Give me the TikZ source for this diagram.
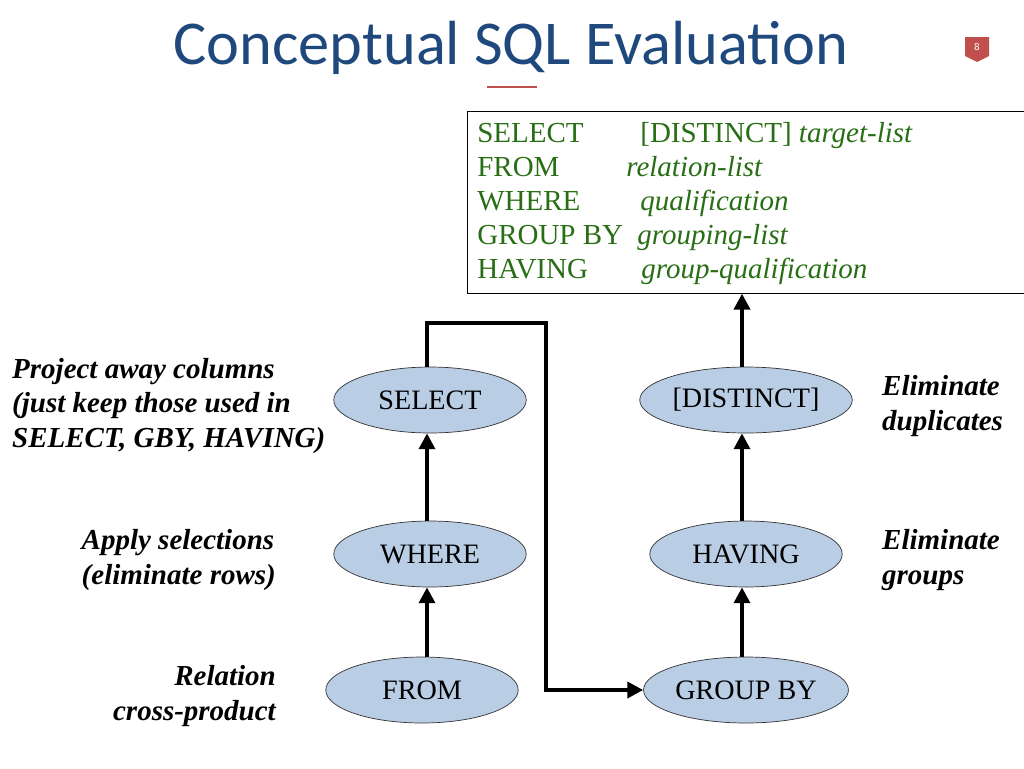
\documentclass[tikz,border=0pt]{standalone}
\usepackage{fontspec}
\setmainfont{Liberation Serif}
\newfontfamily\titlefont{Carlito}
\usetikzlibrary{arrows.meta,shapes.geometric}

\definecolor{titleblue}{RGB}{31,73,125}
\definecolor{sqlgreen}{RGB}{40,110,20}
\definecolor{ovalfill}{RGB}{185,205,229}
\definecolor{badgered}{RGB}{192,80,77}

\tikzset{
  stage/.style={ellipse, draw=black!80, fill=ovalfill, minimum width=3.85cm, minimum height=1.32cm, inner sep=1pt, font=\fontsize{16}{18}\selectfont},
  flow/.style={line width=2.2pt, -{Triangle[length=9pt,width=9pt]}},
  note/.style={font=\fontsize{16.5}{19.5}\selectfont\bfseries\itshape},
  kw/.style={anchor=base west, text=sqlgreen, font=\fontsize{16.5}{18}\selectfont, inner sep=0pt}
}

\begin{document}
\begin{tikzpicture}[x=0.02cm,y=-0.02cm]
    \useasboundingbox (0,0) rectangle (1024,768);

    % Title
    \node (title) at (511,48) {\titlefont\fontsize{35.5}{38}\selectfont\color{titleblue}Conceptual SQL Evaluation};
    \draw[badgered, line width=1.5pt] (487,87) -- (537,87);
    \fill[badgered] (965,37) -- (989,37) -- (989,56) -- (977,62) -- (965,56) -- cycle;
    \node[text=white, font=\sffamily\fontsize{6}{7}\selectfont] (page) at (977,47) {8};

    % Query box
    \node[draw, minimum width=557*0.02cm, minimum height=182*0.02cm, anchor=north west] (query) at (467,111) {};
    \node[kw] at (477,142) {SELECT};
    \node[kw] at (640,142) {[DISTINCT] \textit{target-list}};
    \node[kw] at (477,176) {FROM};
    \node[kw] at (626,176) {\textit{relation-list}};
    \node[kw] at (477,210) {WHERE};
    \node[kw] at (640,210) {\textit{qualification}};
    \node[kw] at (477,244) {GROUP BY};
    \node[kw] at (637,244) {\textit{grouping-list}};
    \node[kw] at (477,278) {HAVING};
    \node[kw] at (641,278) {\textit{group-qualification}};

    % Stages
    \node[stage] (select) at (430,400) {SELECT};
    \node[stage] (where) at (430,554) {WHERE};
    \node[stage] (from) at (422,690) {FROM};
    \node[stage] (distinct) at (746,400) {[DISTINCT]};
    \node[stage] (having) at (746,554) {HAVING};
    \node[stage] (groupby) at (746,690) {GROUP BY};

    % Arrows
    \draw[flow] (from.north -| 427,0) -- (where.south -| 427,0);
    \draw[flow] (where.north -| 427,0) -- (select.south -| 427,0);
    \draw[flow] (select.north -| 427,0) |- (546,323) |- (groupby.west);
    \draw[flow] (groupby.north -| 742,0) -- (having.south -| 742,0);
    \draw[flow] (having.north -| 742,0) -- (distinct.south -| 742,0);
    \draw[flow] (distinct.north -| 742,0) -- (query.south -| 742,0);

    % Notes
    \node[note, align=left, anchor=west] (projnote) at (6,406) {Project away columns\\(just keep those used in\\SELECT, GBY, HAVING)};
    \node[note, align=left, anchor=east] (selnote) at (282,560) {Apply selections\\(eliminate rows)};
    \node[note, align=right, anchor=east] (fromnote) at (282,696) {Relation\\cross-product};
    \node[note, align=left, anchor=west] (dupnote) at (876,406) {Eliminate\\duplicates};
    \node[note, align=left, anchor=west] (grpnote) at (876,560) {Eliminate\\groups};
\end{tikzpicture}
\end{document}
